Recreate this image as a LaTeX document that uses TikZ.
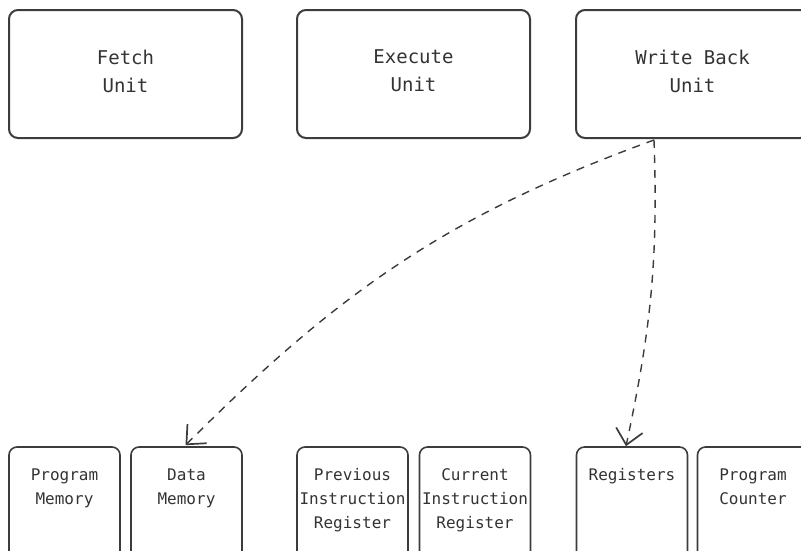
\documentclass[tikz,border=0pt]{standalone}
\usepackage{fontspec}
\setmonofont{DejaVu Sans Mono}
\usetikzlibrary{arrows.meta,calc}

\definecolor{edge}{HTML}{3C3C3C}
\definecolor{ink}{HTML}{333333}

\tikzset{
  unitbox/.style={draw=edge, line width=2pt, rounded corners=9pt,
    minimum width=233pt, minimum height=128pt, inner sep=0pt},
  unitlabel/.style={font=\ttfamily\fontsize{19}{28}\selectfont, text=ink,
    align=center, yshift=3pt},
  membox/.style={draw=edge, line width=1.6pt, rounded corners=8pt,
    minimum width=111pt, minimum height=130pt, inner sep=0pt},
  memlabel/.style={font=\ttfamily\fontsize{16}{24}\selectfont, text=ink,
    align=center, anchor=north, inner sep=0pt, yshift=-22pt},
  link/.style={draw=edge, line width=1.4pt, dash pattern=on 8pt off 7pt,
    -{Straight Barb[length=15pt,width=27pt,line width=1.7pt]}}
}

\begin{document}
\begin{tikzpicture}[x=1pt, y=-1pt]
  \useasboundingbox (0,0) rectangle (801,550);
  \clip (0,0) rectangle (801,550);

  % pipeline units
  \node[unitbox, label={[unitlabel]center:Fetch\\Unit}] (fetch) at (125.5,74) {};
  \node[unitbox, label={[unitlabel]center:Execute\\Unit}] (exec) at (413.5,74) {};
  \node[unitbox, label={[unitlabel]center:Write Back\\Unit}] (wb) at (692.5,74) {};

  % storage elements
  \node[membox, label={[memlabel]north:Program\\Memory}] (pm) at (64.5,512) {};
  \node[membox, label={[memlabel]north:Data\\Memory}] (dm) at (186.5,512) {};
  \node[membox, label={[memlabel]north:Previous\\Instruction\\Register}] (pir) at (352.5,512) {};
  \node[membox, label={[memlabel]north:Current\\Instruction\\Register}] (cir) at (475,512) {};
  \node[membox, label={[memlabel]north:Registers}] (reg) at (632,512) {};
  \node[membox, label={[memlabel]north:Program\\Counter}] (pc) at (753,512) {};

  % write-back paths
  \coordinate (wbout) at ($(wb.south west)+(79,1)$);
  \coordinate (regin) at ($(reg.north)+(-6,0)$);
  \draw[link] (wbout) to[out=200, in=45] ($(dm.north)+(-1,-1)$);
  \draw[link] (wbout) to[out=-88, in=78] (regin);
\end{tikzpicture}
\end{document}
